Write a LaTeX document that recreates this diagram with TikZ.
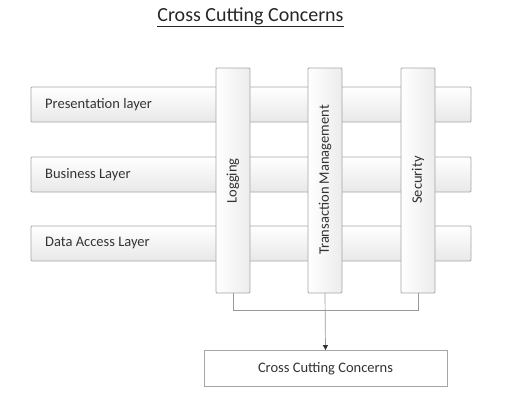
\documentclass[tikz,border=0pt]{standalone}
\usepackage{fontspec}
\setmainfont{Carlito}
\usetikzlibrary{arrows.meta}
\begin{document}
\begin{tikzpicture}[x=1pt,y=-1pt,
  hbar/.style={draw=gray!70, rounded corners=1pt, top color=white, bottom color=gray!18, line width=0.8pt},
  vbar/.style={draw=gray!70, rounded corners=1pt, left color=white, right color=gray!15, line width=0.8pt},
  lbl/.style={font=\fontsize{14.5}{17}\selectfont, text=black!80, inner sep=0pt},
  conn/.style={draw=gray!80, line width=0.7pt}]
\useasboundingbox (0,0) rectangle (514,415);
% title
\node[font=\fontsize{20}{24}\selectfont, text=black!85] (title) at (250.5,17) {\underline{Cross Cutting Concerns}};
% horizontal layers
\draw[hbar] (31,87) rectangle (471,122);
\node[lbl, anchor=west] (pres) at (45,104.5) {Presentation layer};
\draw[hbar] (31,157) rectangle (471,192);
\node[lbl, anchor=west] (bus) at (45,174.5) {Business Layer};
\draw[hbar] (31,226) rectangle (471,261);
\node[lbl, anchor=west] (dal) at (45,243.5) {Data Access Layer};
% vertical concerns
\draw[vbar] (216,68) rectangle (250,293);
\node[lbl, rotate=90] (log) at (233,181) {Logging};
\draw[vbar] (308,68) rectangle (342,293);
\node[lbl, rotate=90] (tm) at (325,180) {Transaction Management};
\draw[vbar] (401,68) rectangle (435,293);
\node[lbl, rotate=90] (sec) at (418,180) {Security};
\coordinate (logb) at (233,293);
\coordinate (tmb) at (325,293);
\coordinate (secb) at (418,293);
% bottom box
\node[draw=gray!70, line width=0.8pt, fill=white, minimum width=243pt, minimum height=36pt, lbl] (ccc) at (325.5,368.5) {Cross Cutting Concerns};
% connectors
\draw[conn] (logb) -- (233,310) -- (418,310) -- (secb);
\draw[conn, -{Triangle[length=5pt,width=5pt,color=black!80]}] (tmb) -- (ccc.north);
\end{tikzpicture}
\end{document}
